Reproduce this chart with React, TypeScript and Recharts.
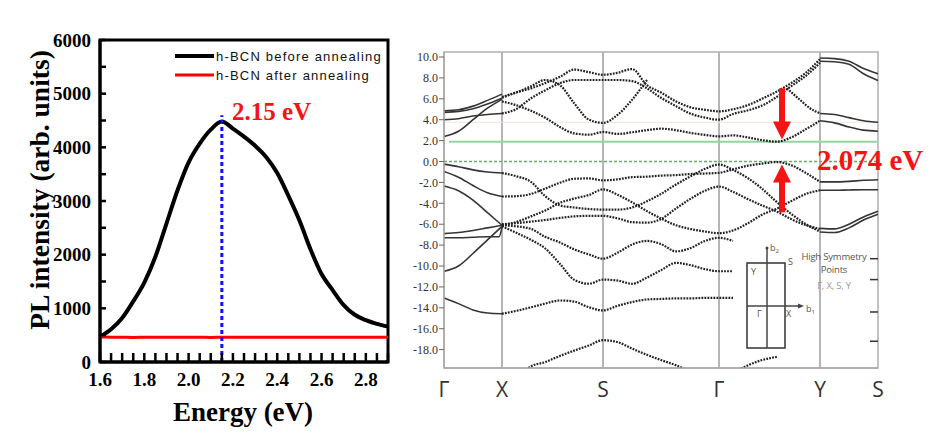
import React from "react";
import {
  LineChart,
  Line,
  XAxis,
  YAxis,
  ReferenceLine,
  ReferenceArea,
  ReferenceDot,
} from "recharts";

const SERIF = "'Liberation Serif', 'Times New Roman', serif";
const SANS = "'Open Sans', 'DejaVu Sans', sans-serif";
const ARIAL = "'Liberation Sans', Arial, sans-serif";
const RED = "#f41414";

// ---------- left panel: PL spectrum ----------
const ENERGY = [
  1.6, 1.65, 1.7, 1.75, 1.8, 1.85, 1.9, 1.95, 2.0, 2.05, 2.1, 2.15, 2.2, 2.25,
  2.3, 2.35, 2.4, 2.45, 2.5, 2.55, 2.6, 2.65, 2.7, 2.75, 2.8, 2.85, 2.9,
];
const PL_BEFORE = [
  470, 610, 820, 1130, 1480, 1960, 2580, 3200, 3720, 4070, 4330, 4480, 4350, 4200,
  4030, 3820, 3520, 3100, 2640, 2100, 1640, 1340, 1060, 880, 780, 710, 660,
];
const PL_AFTER = [
  465, 462, 460, 458, 460, 461, 459, 460, 462, 460, 458, 460, 461, 460,
  459, 460, 460, 461, 460, 459, 460, 460, 461, 460, 459, 460, 460,
];
const PL_TICKS = [0, 500, 1000, 1500, 2000, 2500, 3000, 3500, 4000, 4500, 5000, 5500, 6000];
const PEAK_ENERGY = 2.15;
const PEAK_MARK_TOP = 4600;

const PL_SERIES = [
  { key: "before", name: "h-BCN before annealing", color: "#000", width: 4 },
  { key: "after", name: "h-BCN after annealing", color: "#ff0000", width: 3 },
];

// ---------- right panel: band structure ----------
const K_GX = [0, 14.5, 29, 43.5, 58];
const K_GX_KINK = [0, 14.5, 29, 43.5, 55, 58];
const K_MAIN = [58, 72, 87, 101, 116, 130, 145, 159, 174, 188, 203, 217, 232, 246, 261, 275, 289, 304, 318, 333, 347, 362, 376];
const K_YS = [376, 390.5, 405, 419.5, 434];
const K_U = [343, 356, 366, 376];
const K_BOTTOM = [289, 304, 318, 333];
const SYM_K = [0, 58, 159, 275, 376, 434];
const SYM_LABELS = ["Γ", "X", "S", "Γ", "Y", "S"];
const E_TICKS = [10, 8, 6, 4, 2, 0, -2, -4, -6, -8, -10, -12, -14, -16, -18];
const CBM_LINE = 1.88;
const EDGE_TICKS = [-9.3, -11.3, -14.4, -17.2];

// Γ–X, solid
const GX_BANDS = [
  [4.85, 4.95, 5.3, 5.85, 6.45],
  [4.7, 4.8, 5.05, 5.5, 6.05],
  [4.0, 4.1, 4.35, 4.5, 4.6],
  [2.4, 2.9, 4.0, 5.1, 5.95],
  [-0.25, -0.5, -0.8, -1.0, -1.1],
  [-0.95, -1.5, -2.3, -3.0, -3.35],
  [-2.35, -2.8, -3.7, -4.9, -6.1],
  [-6.9, -6.8, -6.6, -6.35, -6.1],
  [-10.5, -10.0, -8.8, -7.5, -6.2],
  [-13.05, -13.6, -14.2, -14.5, -14.57],
];
const GX_KINK_BAND = [-7.3, -7.3, -7.25, -7.2, -7.2, -6.3];

// X–S–Γ–Y, dotted
const N = null;
const MAIN_BANDS: (number | null)[][] = [
  [6.1, 6.6, 7.0, 7.5, 8.1, 8.8, 8.55, 8.3, 8.5, 8.85, 7.3, 6.6, 5.75, 5.2, 4.95, 4.8, 5.0, 5.4, 6.0, 6.7, 7.5, 8.5, 9.8],
  [4.6, 5.0, 6.05, 6.8, 7.5, 7.8, 7.8, 7.8, 7.8, 7.7, 7.0, 6.1, 5.3, 4.6, 4.2, 4.0, 4.55, 4.9, 5.35, 6.2, 7.2, 8.2, 9.45],
  [6.2, 6.6, 7.2, 7.8, 7.3, 5.6, 4.0, 3.7, 4.5, 5.9, 7.8, N, N, N, N, N, N, N, N, N, N, N, N],
  [5.75, 5.4, 4.85, 4.2, 3.3, 2.7, 2.57, 2.83, 2.64, 2.8, 3.0, 3.14, 3.0, 2.75, 2.55, 2.4, 2.5, 2.3, 2.05, 1.9, 2.3, 3.1, 3.9],
  [-3.35, -3.32, -3.1, -2.6, -2.03, -1.65, -1.62, -1.8, -1.7, -1.5, -1.45, -1.35, -1.3, -1.2, -1.15, -1.08, -0.75, -0.4, -0.2, -0.05, -0.35, -1.1, -1.95],
  [-6.1, -5.8, -5.25, -4.7, -3.95, -3.55, -3.2, -2.67, -3.2, -3.9, -4.75, -5.45, -6.1, -6.45, -6.7, -6.86, -6.6, -5.9, -5.1, -4.5, -3.8, -3.1, -2.75],
  [-1.1, -1.4, -1.95, -3.3, -4.2, -4.4, -4.55, -4.6, -4.6, -4.4, -3.8, -3.1, -2.2, -1.45, -0.7, -0.29, -0.8, -1.6, -2.6, -3.9, -5.0, -6.0, -6.7],
  [-6.0, -5.9, -5.75, -5.6, -5.4, -5.25, -5.2, -5.2, -5.45, -5.8, -5.85, -5.5, -4.5, -3.6, -2.8, -2.4, -2.9, -3.6, -4.2, -4.8, -5.5, -6.1, -6.45],
  [-6.1, -6.2, -6.45, -7.2, -7.75, -8.4, -8.9, -9.3, -8.7, -7.95, -7.6, -7.9, -8.6, -8.3, -7.6, -7.3, -7.6, N, N, N, N, N, N],
  [-6.2, -6.8, -7.5, -8.3, -9.8, -11.3, -11.7, -11.3, -11.4, -11.7, -11.1, -10.4, -9.7, -9.9, -10.3, -10.5, -10.5, N, N, N, N, N, N],
  [-14.57, -14.3, -13.95, -13.6, -13.3, -13.4, -13.95, -14.25, -13.8, -13.45, -13.2, -13.15, -13.1, -13.1, -13.05, -13.05, -13.05, N, N, N, N, N, N],
  [N, -21, -19.6, -19.2, -18.6, -18.1, -17.6, -17.1, -17.3, -17.9, -18.5, -19.0, -19.5, -20.1, N, N, N, N, N, N, N, N, N],
];
const U_BAND = [7.0, 5.9, 5.1, 4.6];
const BOTTOM_BAND = [-20.2, -19.5, -19.0, -18.7];

// Y–S, solid
const YS_BANDS = [
  [9.9, 9.85, 9.6, 8.9, 8.4],
  [9.6, 9.55, 9.3, 8.4, 7.75],
  [4.6, 4.5, 4.2, 3.9, 3.75],
  [3.9, 3.7, 3.3, 3.0, 2.9],
  [-1.95, -1.95, -1.9, -1.8, -1.75],
  [-2.75, -2.75, -2.72, -2.7, -2.7],
  [-6.4, -6.45, -6.0, -5.3, -4.75],
  [-6.75, -6.8, -6.35, -5.6, -5.05],
];

const ARROW_K = 338;
const ARROW_DOWN = { from: 7.0, to: 3.6, tip: 2.1 };
const ARROW_UP = { from: -4.86, to: -1.8, tip: -0.29 };

type Band = { id: string; k: number[]; e: (number | null)[]; dotted: boolean };

const BANDS: Band[] = [
  ...GX_BANDS.map((e, i) => ({ id: `gx${i}`, k: K_GX, e, dotted: false })),
  { id: "gxk", k: K_GX_KINK, e: GX_KINK_BAND, dotted: false },
  ...MAIN_BANDS.map((e, i) => ({ id: `m${i}`, k: K_MAIN, e, dotted: true })),
  { id: "u", k: K_U, e: U_BAND, dotted: true },
  { id: "bot", k: K_BOTTOM, e: BOTTOM_BAND, dotted: true },
  ...YS_BANDS.map((e, i) => ({ id: `ys${i}`, k: K_YS, e, dotted: false })),
];

const fmtEnergy = (v: number) =>
  Math.abs(v * 5 - Math.round(v * 5)) < 1e-6 ? v.toFixed(1) : "";
const fmtCount = (v: number) => (v % 1000 === 0 ? String(v) : "");

const TICK_FONT = { fill: "#000", fontSize: 19, fontFamily: SERIF, fontWeight: 700 };
const X_MARGIN = 11;
const Y_MARGIN = 9;

// tick label plus an inward tick mark
function PlXTick(p: any) {
  const label = fmtEnergy(p.payload.value);
  const axisY = p.y - X_MARGIN;
  return (
    <g>
      <line x1={p.x} x2={p.x} y1={axisY} y2={axisY - 9} stroke="#000" strokeWidth={2.5} />
      {label && (
        <text x={p.x} y={p.y} dy="0.71em" textAnchor="middle" {...TICK_FONT}>
          {label}
        </text>
      )}
    </g>
  );
}

function PlYTick(p: any) {
  const label = fmtCount(p.payload.value);
  const axisX = p.x + Y_MARGIN;
  return (
    <g>
      <line x1={axisX} x2={axisX + 6} y1={p.y} y2={p.y} stroke="#000" strokeWidth={2.5} />
      {label && (
        <text x={p.x} y={p.y} dy="0.35em" textAnchor="end" {...TICK_FONT}>
          {label}
        </text>
      )}
    </g>
  );
}

const arrowHead = (dir: number) => (p: any) => (
  <path
    d={`M${p.cx},${p.cy} L${p.cx - 9},${p.cy - dir * 18} L${p.cx + 9},${p.cy - dir * 18} Z`}
    fill={RED}
  />
);

function PlChart() {
  const data = ENERGY.map((e, i) => ({ e, before: PL_BEFORE[i], after: PL_AFTER[i] }));
  return (
    <LineChart width={400} height={435} data={data} margin={{ top: 40, right: 12, bottom: 43, left: 40 }}>
      <XAxis
        dataKey="e"
        type="number"
        domain={[1.6, 2.9]}
        ticks={ENERGY}
        interval={0}
        height={30}
        tickSize={0}
        tickMargin={X_MARGIN}
        axisLine={{ stroke: "#000", strokeWidth: 3 }}
        tickLine={false}
        tick={PlXTick}
      />
      <YAxis
        type="number"
        domain={[0, 6000]}
        ticks={PL_TICKS}
        interval={0}
        width={60}
        tickSize={0}
        tickMargin={Y_MARGIN}
        axisLine={{ stroke: "#000", strokeWidth: 3 }}
        tickLine={false}
        tick={PlYTick}
      />
      <ReferenceArea x1={1.6} x2={2.9} y1={0} y2={6000} fill="none" stroke="#000" strokeWidth={3} />
      {PL_SERIES.map((s) => (
        <Line
          key={s.key}
          dataKey={s.key}
          type="monotone"
          stroke={s.color}
          strokeWidth={s.width}
          dot={false}
          activeDot={false}
          isAnimationActive={false}
        />
      ))}
      <ReferenceLine
        segment={[
          { x: PEAK_ENERGY, y: 0 },
          { x: PEAK_ENERGY, y: PEAK_MARK_TOP },
        ]}
        stroke="#1010ff"
        strokeWidth={3}
        strokeDasharray="4 3"
      />
    </LineChart>
  );
}

function BandChart() {
  return (
    <LineChart width={545} height={435} margin={{ top: 52, right: 57, bottom: 37, left: 14 }}>
      <XAxis
        dataKey="k"
        type="number"
        domain={[0, 434]}
        ticks={SYM_K}
        interval={0}
        tickFormatter={(v: number) => SYM_LABELS[SYM_K.indexOf(v)] ?? ""}
        height={30}
        tickSize={0}
        tickMargin={14}
        axisLine={{ stroke: "#aaa", strokeWidth: 1.5 }}
        tickLine={false}
        tick={{ fill: "#333", fontSize: 21, fontFamily: SANS }}
      />
      <YAxis
        type="number"
        domain={[-19.76, 10.48]}
        allowDataOverflow
        ticks={E_TICKS}
        interval={0}
        tickFormatter={(v: number) => v.toFixed(1)}
        width={40}
        tickSize={5}
        tickMargin={1}
        axisLine={{ stroke: "#aaa", strokeWidth: 1.5 }}
        tickLine={{ stroke: "#666", strokeWidth: 1 }}
        tick={{ fill: "#333", fontSize: 12, fontFamily: SERIF }}
      />
      <ReferenceArea x1={0} x2={434} y1={-19.76} y2={10.48} fill="none" stroke="#b0b0b0" strokeWidth={1.5} />
      {SYM_K.slice(1, 5).map((k) => (
        <ReferenceLine key={`sym${k}`} x={k} stroke="#b5b5b5" strokeWidth={2} />
      ))}
      <ReferenceLine y={3.75} stroke="#f8e2e2" strokeWidth={1} />
      <ReferenceLine
        segment={[
          { x: 5, y: CBM_LINE },
          { x: 434, y: CBM_LINE },
        ]}
        stroke="#93d49f"
        strokeWidth={2}
      />
      <ReferenceLine y={0} stroke="#5eb36a" strokeWidth={1.3} strokeDasharray="3 2" />
      {EDGE_TICKS.map((e) => (
        <ReferenceLine
          key={`et${e}`}
          segment={[
            { x: 426, y: e },
            { x: 434, y: e },
          ]}
          stroke="#333"
          strokeWidth={1.5}
        />
      ))}
      {BANDS.map((b) => (
        <Line
          key={b.id}
          data={b.k.map((k, i) => ({ k, e: b.e[i] }))}
          dataKey="e"
          type="monotone"
          stroke={b.dotted ? "#222" : "#353535"}
          strokeWidth={b.dotted ? 2.2 : 1.6}
          strokeDasharray={b.dotted ? "1.8 1.2" : undefined}
          connectNulls={false}
          dot={false}
          activeDot={false}
          isAnimationActive={false}
        />
      ))}
      <ReferenceLine
        segment={[
          { x: ARROW_K, y: ARROW_DOWN.from },
          { x: ARROW_K, y: ARROW_DOWN.to },
        ]}
        stroke={RED}
        strokeWidth={6}
      />
      <ReferenceDot x={ARROW_K} y={ARROW_DOWN.tip} r={1} shape={arrowHead(1)} />
      <ReferenceLine
        segment={[
          { x: ARROW_K, y: ARROW_UP.from },
          { x: ARROW_K, y: ARROW_UP.to },
        ]}
        stroke={RED}
        strokeWidth={6}
      />
      <ReferenceDot x={ARROW_K} y={ARROW_UP.tip} r={1} shape={arrowHead(-1)} />
    </LineChart>
  );
}

function Overlay() {
  return (
    <svg width={935} height={435} style={{ position: "absolute", left: 0, top: 0, pointerEvents: "none" }}>
      <text
        transform="translate(49,190) rotate(-90)"
        textAnchor="middle"
        fontFamily={SERIF}
        fontWeight={700}
        fontSize={27.5}
        fill="#000"
      >
        PL intensity (arb. units)
      </text>
      <text x={243} y={421} textAnchor="middle" fontFamily={SERIF} fontWeight={700} fontSize={27} fill="#000">
        Energy (eV)
      </text>
      {PL_SERIES.map((s, i) => (
        <g key={s.key}>
          <line x1={175} x2={214} y1={56 + i * 19} y2={56 + i * 19} stroke={s.color} strokeWidth={s.width} />
          <text x={216} y={60.5 + i * 19} fontFamily={ARIAL} fontSize={13} letterSpacing={1.2} fill="#111">
            {s.name}
          </text>
        </g>
      ))}
      <text x={232} y={120} fontFamily={SERIF} fontWeight={700} fontSize={25} fill={RED}>
        2.15 eV
      </text>
      <text x={817} y={170} fontFamily={SERIF} fontWeight={700} fontSize={29} fill={RED}>
        2.074 eV
      </text>

      {/* Brillouin zone inset */}
      <rect x={747} y={263} width={38} height={85} fill="none" stroke="#333" strokeWidth={1.5} />
      <line x1={767} x2={767} y1={248} y2={348} stroke="#444" strokeWidth={1.5} />
      <circle cx={767} cy={248} r={1.5} fill="#444" />
      <line x1={747} x2={800} y1={306} y2={306} stroke="#444" strokeWidth={1.5} />
      <path d="M804,306 L798,303.5 L798,308.5 Z" fill="#444" />
      <g fontFamily={SANS} fontSize={9} fill="#555">
        <text x={770} y={251}>
          b<tspan fontSize={6} dy={2}>2</tspan>
        </text>
        <text x={788} y={265}>S</text>
        <text x={751} y={275}>Y</text>
        <text x={757} y={317}>Γ</text>
        <text x={786} y={317}>X</text>
        <text x={806} y={312}>
          b<tspan fontSize={6} dy={2}>1</tspan>
        </text>
      </g>
      <g fontFamily={SANS} fontSize={9.5} fill="#555" textAnchor="middle" letterSpacing={-0.2}>
        <text x={834} y={260}>High Symmetry</text>
        <text x={834} y={273}>Points</text>
        <text x={834} y={289} fill="#999">Γ, X, S, Y</text>
      </g>
    </svg>
  );
}

export default function App() {
  return (
    <div style={{ position: "absolute", left: 0, top: 0, width: 935, height: 435, background: "#fff" }}>
      <div style={{ position: "absolute", left: 0, top: 0 }}>
        <PlChart />
      </div>
      <div style={{ position: "absolute", left: 390, top: 0 }}>
        <BandChart />
      </div>
      <Overlay />
    </div>
  );
}
